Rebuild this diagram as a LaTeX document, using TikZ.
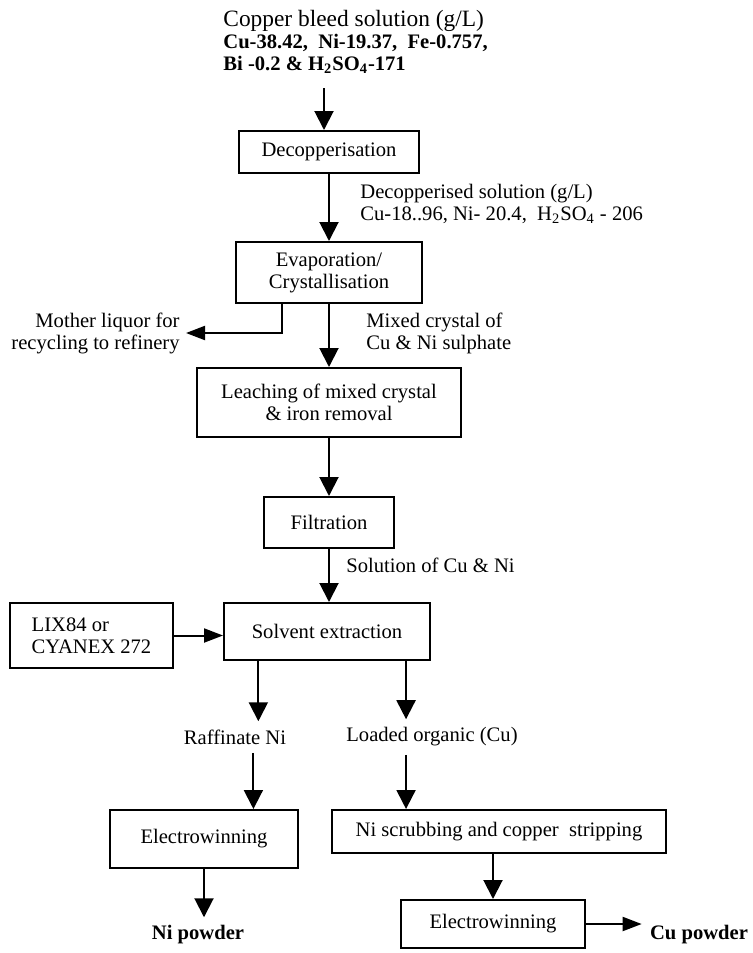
\documentclass[tikz,border=0pt]{standalone}
\usepackage{fontspec}
\setmainfont{Liberation Serif}
\usetikzlibrary{positioning, arrows.meta, calc}

\begin{document}
\begin{tikzpicture}[x=0.5pt, y=-0.5pt,
		box/.style={draw, black, line width=1pt, align=center, inner sep=0pt, font=\fontsize{10.3}{11}\selectfont},
		note/.style={align=left, inner sep=3pt, font=\fontsize{10.3}{11}\selectfont},
		flow/.style={-{Triangle[length=9.5pt, width=9.5pt]}, line width=1pt},
		sideflow/.style={-{Triangle[length=9.5pt, width=7pt]}, line width=1pt}]
		
		%Frame
		\fill[white] (0,0) rectangle (752,953);
		\useasboundingbox (0,0) rectangle (752,953);
		
		%Feed and notes
		\node[note, anchor=west, inner sep=0pt] (feed) at (223,42) {{\fontsize{11.7}{12}\selectfont Copper bleed solution (g/L)}\\\textbf{Cu-38.42,\ \ Ni-19.37,\ \ Fe-0.757,}\\\textbf{Bi -0.2 \& H\textsubscript{2}SO\textsubscript{4}-171}};
		\coordinate (feedin) at (324,88);
		\node[note, anchor=west] (decsol) at (354,204) {Decopperised solution (g/L)\\Cu-18..96, Ni- 20.4,\ \ H\textsubscript{2}SO\textsubscript{4} - 206};
		\node[note, anchor=east, align=right] (mother) at (186,333) {Mother liquor for\\recycling to refinery};
		\node[note, anchor=west] (mixed) at (360,333) {Mixed crystal of\\Cu \& Ni sulphate};
		\node[note, anchor=west] (solcu) at (340,565) {Solution of Cu \& Ni};
		\node[note, inner sep=4pt] (raff) at (235,737) {Raffinate Ni};
		\node[note, inner sep=4pt] (loaded) at (432,737) {Loaded organic (Cu)};
		\node[note, inner sep=4pt, font=\fontsize{10.3}{11}\selectfont\bfseries] (nipow) at (198,935) {Ni powder};
		\node[note, inner sep=4pt, font=\fontsize{10.3}{11}\selectfont\bfseries] (cupow) at (699,935) {Cu powder};
		
		%Boxes
		\node[box, minimum width=90pt, minimum height=21pt] (decop) at (329,152) {Decopperisation};
		\node[box, minimum width=93pt, minimum height=30.5pt] (evap) at (329,272.5) {Evaporation/\\Crystallisation};
		\node[box, minimum width=132pt, minimum height=34.5pt] (leach) at (329,402.5) {Leaching of mixed crystal\\\& iron removal};
		\node[box, minimum width=65pt, minimum height=25.5pt] (filt) at (329,522.5) {Filtration};
		\node[box, minimum width=103pt, minimum height=28.5pt] (solv) at (327,631.5) {Solvent extraction};
		\node[box, minimum width=81.5pt, minimum height=32.5pt, align=left] (lix) at (91.5,635.5) {LIX84 or\\CYANEX 272};
		\node[box, minimum width=94pt, minimum height=29pt] (ewni) at (204,839) {Electrowinning};
		\node[box, minimum width=167pt, minimum height=21.5pt] (scrub) at (499,831.5) {Ni scrubbing and copper\ \ stripping};
		\node[box, minimum width=92pt, minimum height=24pt] (ewcu) at (493,924) {Electrowinning};
		
		%Split points
		\coordinate (sr) at ($(solv.south west)!0.17!(solv.south east)$);
		\coordinate (sl) at ($(solv.south west)!0.88!(solv.south east)$);
		\coordinate (en) at ($(ewni.north west)!0.76!(ewni.north east)$);
		\coordinate (ml) at ($(evap.south west)!0.25!(evap.south east)$);
		
		%Flows
		\draw[flow] (feedin) -- (feedin |- decop.north);
		\draw[flow] (decop) -- (evap);
		\draw[sideflow] (ml) |- (mother.east);
		\draw[flow] (evap) -- (leach);
		\draw[flow] (leach) -- (filt);
		\draw[flow] (filt.south) -- (filt.south |- solv.north);
		\draw[sideflow] (lix.east) -- (lix.east -| solv.west);
		\draw[flow] (sr) -- (sr |- raff.north);
		\draw[flow] (sl) -- (sl |- loaded.north);
		\draw[flow] (raff.south -| en) -- (en);
		\draw[flow] (sl |- loaded.south) -- (sl |- scrub.north);
		\draw[flow] (ewni.south) -- (ewni.south |- nipow.north);
		\draw[flow] (scrub.south -| ewcu.north) -- (ewcu.north);
		\draw[sideflow] (ewcu.east) -- (ewcu.east -| cupow.west);
		
\end{tikzpicture}
\end{document}
